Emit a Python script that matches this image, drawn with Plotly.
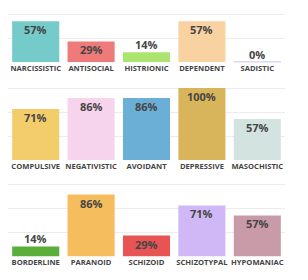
import plotly.graph_objects as go

# ---- data ----
row1_labels = ["NARCISSISTIC", "ANTISOCIAL", "HISTRIONIC", "DEPENDENT", "SADISTIC"]
row1_values = [57, 29, 14, 57, 0]
row1_colors = ["#74cbc9", "#ee7a7a", "#abe46f", "#f9d2a2", "#b9afeb"]

row2_labels = ["COMPULSIVE", "NEGATIVISTIC", "AVOIDANT", "DEPRESSIVE", "MASOCHISTIC"]
row2_values = [71, 86, 86, 100, 57]
row2_colors = ["#f3cd6c", "#f7d4ee", "#6cafd6", "#d8b55a", "#d3e3df"]

row3_labels = ["BORDERLINE", "PARANOID", "SCHIZOID", "SCHIZOTYPAL", "HYPOMANIAC"]
row3_values = [14, 86, 29, 71, 57]
row3_colors = ["#5aae3a", "#f5bd5d", "#e85454", "#cfb8f5", "#c99ba8"]

rows = [
    (row1_labels, row1_values, row1_colors),
    (row2_labels, row2_values, row2_colors),
    (row3_labels, row3_values, row3_colors),
]

W, H = 308, 280
PX_PER_100 = 72.0
# (baseline px from top, domain top px from top)
row_geom = [(62.3, 0.0), (160.0, 84.0), (256.5, 181.0)]
x_dom = [8 / W, 285 / W]
BARW = 0.85

fig = go.Figure()
annotations = []
shapes = []
layout = {}

for i, ((labels, values, colors), (base_px, top_px)) in enumerate(zip(rows, row_geom)):
    sfx = "" if i == 0 else str(i + 1)
    xa, ya = "x" + sfx, "y" + sfx
    xs = list(range(len(labels)))
    fig.add_trace(go.Bar(
        x=xs, y=values, marker=dict(color=colors, line=dict(width=0)),
        width=BARW, xaxis=xa, yaxis=ya, hoverinfo="skip", showlegend=False,
    ))
    ymax = (base_px - top_px) / PX_PER_100 * 100
    dom = [(H - base_px) / H, (H - top_px) / H]
    layout["xaxis" + sfx] = dict(
        domain=x_dom, anchor=ya, range=[-0.5, len(labels) - 0.5],
        tickmode="array", tickvals=xs, ticktext=labels, tickangle=0,
        showgrid=False, zeroline=False, showline=False, ticks="",
        tickfont=dict(family="Open Sans", size=7.6, color="#444444", weight="bold"),
        ticklabelstandoff=0, fixedrange=True,
    )
    layout["yaxis" + sfx] = dict(
        domain=dom, anchor=xa, range=[0, ymax],
        tick0=0, dtick=100 / 3, showgrid=True, gridcolor="#ececec", gridwidth=1,
        showticklabels=False, zeroline=False, showline=False, ticks="",
        fixedrange=True,
    )
    for xi, v, c in zip(xs, values, colors):
        inside = v >= 25
        annotations.append(dict(
            x=xi, y=v, xref=xa, yref=ya, text=f"{v}%", showarrow=False,
            yanchor="top" if inside else "bottom", yshift=1 if inside else -2,
            font=dict(family="Open Sans", size=11, color="#454545", weight="bold"),
        ))
        if v == 0:
            shapes.append(dict(
                type="line", xref=xa, yref=ya, x0=xi - BARW / 2, x1=xi + BARW / 2,
                y0=0, y1=0, line=dict(color=c, width=1.5),
            ))

fig.update_layout(
    width=W, height=H, margin=dict(l=0, r=0, t=0, b=0),
    paper_bgcolor="white", plot_bgcolor="white",
    annotations=annotations, shapes=shapes, **layout,
)
fig.write_html("out.html", config={"displayModeBar": False})
